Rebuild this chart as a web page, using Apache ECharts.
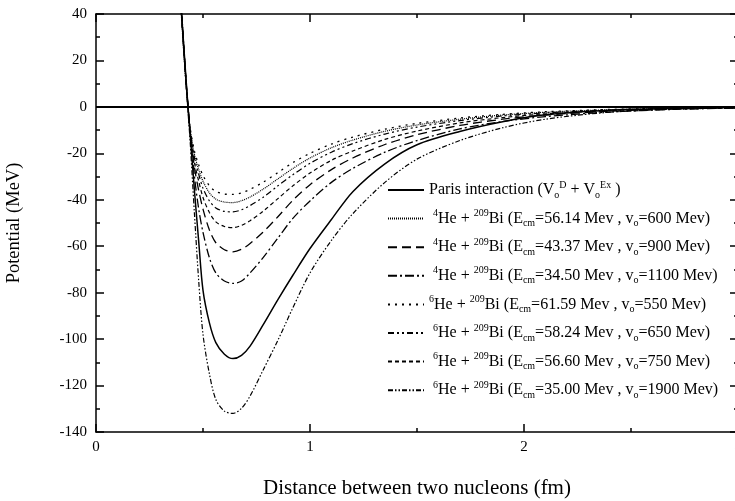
<!DOCTYPE html>
<html>
<head>
<meta charset="utf-8">
<script src="https://cdn.jsdelivr.net/npm/echarts@6/dist/echarts.min.js"></script>
<style>
html,body{margin:0;padding:0;background:#fff;}
#c{width:735px;height:501px;}
</style>
</head>
<body>
<div id="c"></div>
<script>
// distance (fm)
var xs = [0.38, 0.40, 0.42, 0.43, 0.44, 0.46, 0.48, 0.50, 0.53, 0.56, 0.60, 0.64, 0.68, 0.72, 0.78, 0.85, 0.92, 1.0, 1.1, 1.2, 1.35, 1.5, 1.7, 1.9, 2.1, 2.4, 2.7, 3.0];
// potentials (MeV)
var paris    = [70, 40, 13, 0, -12, -36, -58, -79, -93, -101.5, -106.5, -108.4, -107, -103, -94, -83, -72.5, -61, -48.5, -36.5, -24.5, -16.3, -10.6, -6.4, -3.4, -1.4, -0.6, -0.2];
var he4_600  = [68, 38, 11, 0, -9.5, -20.5, -27, -32, -37, -39.7, -41, -41.2, -40.4, -38.8, -35.5, -31, -26.5, -22, -17.6, -14.3, -10.5, -7.8, -5.3, -3.5, -2.3, -1.2, -0.6, -0.3];
var he4_900  = [70, 39.5, 12, 0, -11, -26, -36, -44, -53, -58.5, -61.5, -62.4, -61.3, -58.8, -54, -47.3, -40.2, -33.5, -27, -22, -16.2, -12, -8, -5.3, -3.5, -1.9, -0.9, -0.45];
var he4_1100 = [70, 40, 12, 0, -11, -30, -44, -54, -65, -71.5, -75, -76, -75, -71.5, -65, -56.5, -48, -40.5, -32.5, -26.5, -19.5, -14.5, -9.5, -6.3, -4.2, -2.2, -1.1, -0.5];
var he6_550  = [68, 38, 11, 0, -9, -19, -25, -29.5, -34, -36.4, -37.5, -37.7, -37, -35.5, -32.5, -28.3, -24, -20, -16, -13, -9.6, -7.1, -4.8, -3.2, -2.1, -1.1, -0.5, -0.25];
var he6_650  = [69, 39, 11, 0, -10, -22, -29, -35, -40.5, -43.5, -45, -45.2, -44.3, -42.5, -39, -34, -29.2, -24.3, -19.5, -15.8, -11.7, -8.7, -5.9, -3.9, -2.6, -1.4, -0.7, -0.3];
var he6_750  = [69, 39, 11.5, 0, -10.5, -24, -32, -39, -45.5, -49.5, -51.5, -52, -51, -49, -45, -39.5, -34, -28.5, -23, -19, -14, -10.4, -6.9, -4.6, -3, -1.6, -0.8, -0.4];
var he6_1900 = [75, 42, 12, -2, -15, -46, -75, -98, -115, -126, -131, -132, -129.8, -124.5, -113.5, -100.5, -86.5, -71.5, -57.5, -46, -32.5, -22.5, -14.5, -9, -5.3, -2.3, -1, -0.4];

var seriesKeys = ['paris', 'he4_600', 'he4_900', 'he4_1100', 'he6_550', 'he6_650', 'he6_750', 'he6_1900'];
var seriesValues = [paris, he4_600, he4_900, he4_1100, he6_550, he6_650, he6_750, he6_1900];
var legendLabels = [
  'Paris interaction (V{sub|o}{sup|D} + V{sub|o}{sup|Ex} )',
  ' {sup|4}He + {sup|209}Bi (E{sub|cm}=56.14 Mev , v{sub|o}=600 Mev)',
  ' {sup|4}He + {sup|209}Bi (E{sub|cm}=43.37 Mev , v{sub|o}=900 Mev)',
  ' {sup|4}He + {sup|209}Bi (E{sub|cm}=34.50 Mev , v{sub|o}=1100 Mev)',
  '{sup|6}He + {sup|209}Bi (E{sub|cm}=61.59 Mev , v{sub|o}=550 Mev)',
  ' {sup|6}He + {sup|209}Bi (E{sub|cm}=58.24 Mev , v{sub|o}=650 Mev)',
  ' {sup|6}He + {sup|209}Bi (E{sub|cm}=56.60 Mev , v{sub|o}=750 Mev)',
  ' {sup|6}He + {sup|209}Bi (E{sub|cm}=35.00 Mev , v{sub|o}=1900 Mev)'
];
var dashTypes = ['solid', [1, 1], [9, 5], [9, 3, 2, 3], [2, 5], [6, 3, 2, 3, 2, 3], [4, 3], [5, 2, 1.5, 2, 1.5, 2]];
var widths = [1.5, 1.2, 1.3, 1.3, 1.3, 1.2, 1.2, 1.2];

var FONT = 'Liberation Serif';
var chart = echarts.init(document.getElementById('c'), null, {renderer: 'canvas'});

var series = seriesKeys.map(function (k, i) {
  var s = {
    name: k,
    type: 'line',
    smooth: 0.3,
    symbol: 'none',
    clip: true,
    data: xs.map(function (x, j) { return [x, seriesValues[i][j]]; }),
    lineStyle: {color: '#000', width: widths[i], type: dashTypes[i]},
    itemStyle: {color: '#000'},
    z: 3
  };
  if (i === 0) {
    s.markLine = {
      silent: true, symbol: 'none', label: {show: false},
      lineStyle: {color: '#000', width: 2, type: 'solid'},
      data: [{yAxis: 0}]
    };
  }
  return s;
});

var axisCommon = {
  axisLine: {show: true, onZero: false, lineStyle: {color: '#000', width: 1.5}},
  axisTick: {show: true, inside: true, length: 8, lineStyle: {color: '#000', width: 1.5}},
  minorTick: {show: true, splitNumber: 2, length: 4, lineStyle: {color: '#000', width: 1.5}},
  splitLine: {show: false},
  minorSplitLine: {show: false}
};

function ax(extra) { return Object.assign({}, JSON.parse(JSON.stringify(axisCommon)), extra); }

chart.setOption({
  animation: false,
  backgroundColor: '#fff',
  grid: {left: 96, top: 14, width: 642, height: 418, containLabel: false, outerBoundsMode: 'none'},
  xAxis: [
    ax({type: 'value', min: 0, max: 3, interval: 1, position: 'bottom',
      name: 'Distance between two nucleons (fm)', nameLocation: 'middle', nameGap: 46,
      nameTextStyle: {fontFamily: FONT, fontSize: 21, color: '#000'},
      axisLabel: {show: true, margin: 8, showMaxLabel: true, hideOverlap: false, fontFamily: FONT, fontSize: 15, color: '#000'}}),
    ax({type: 'value', min: 0, max: 3, interval: 1, position: 'top', axisLabel: {show: false}})
  ],
  yAxis: [
    ax({type: 'value', min: -140, max: 40, interval: 20, position: 'left',
      name: 'Potential (MeV)', nameLocation: 'middle', nameGap: 72,
      nameTextStyle: {fontFamily: FONT, fontSize: 18.5, color: '#000'},
      axisLabel: {show: true, margin: 9, fontFamily: FONT, fontSize: 15, color: '#000'}}),
    ax({type: 'value', min: -140, max: 40, interval: 20, position: 'right', axisLabel: {show: false}})
  ],
  legend: {
    show: true,
    orient: 'vertical',
    left: 387,
    top: 180,
    itemWidth: 36,
    itemHeight: 10,
    itemGap: 8.6,
    padding: 0,
    data: seriesKeys,
    itemStyle: {opacity: 0},
    formatter: function (name) { return legendLabels[seriesKeys.indexOf(name)]; },
    textStyle: {
      fontFamily: FONT, fontSize: 16, color: '#000', lineHeight: 20,
      rich: {
        sup: {fontFamily: FONT, fontSize: 10, lineHeight: 10, verticalAlign: 'top', color: '#000'},
        sub: {fontFamily: FONT, fontSize: 10, lineHeight: 10, verticalAlign: 'bottom', color: '#000'}
      }
    }
  },
  series: series
});
</script>
</body>
</html>
